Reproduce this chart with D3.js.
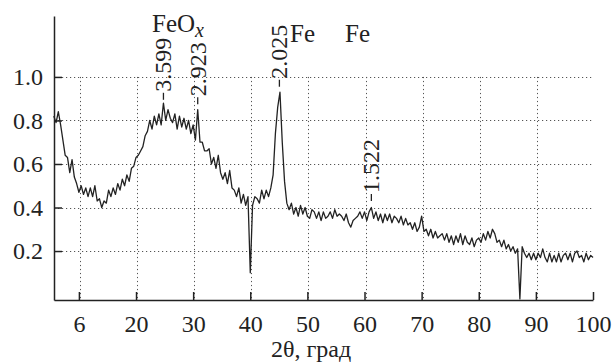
<!DOCTYPE html>
<html>
<head>
<meta charset="utf-8">
<script src="https://cdn.jsdelivr.net/npm/d3@7"></script>
<style>
  body { margin: 0; background: #fff; }
  svg { display: block; }
  svg text { font-family: "Liberation Serif", "Times New Roman", "DejaVu Serif", Times, serif; }
</style>
</head>
<body>
<div id="chart"></div>
<script>
// scan start and step, degrees 2θ
const scanStart = 5.6;
const scanStep = 0.4;

// intensity, one value per step
const intensity = [
  0.82, 0.79, 0.84, 0.78, 0.71, 0.64, 0.63, 0.56, 0.62, 0.54,
  0.51, 0.47, 0.50, 0.46, 0.49, 0.45, 0.49, 0.45, 0.50, 0.43,
  0.44, 0.40, 0.43, 0.42, 0.48, 0.45, 0.49, 0.46, 0.51, 0.48,
  0.53, 0.50, 0.55, 0.52, 0.58, 0.59, 0.63, 0.64, 0.66, 0.68,
  0.73, 0.75, 0.80, 0.76, 0.82, 0.78, 0.83, 0.78, 0.88, 0.80,
  0.85, 0.81, 0.79, 0.83, 0.76, 0.82, 0.77, 0.81, 0.76, 0.80,
  0.74, 0.78, 0.71, 0.85, 0.70, 0.70, 0.66, 0.66, 0.67, 0.60,
  0.63, 0.58, 0.64, 0.56, 0.53, 0.56, 0.51, 0.57, 0.49, 0.48,
  0.45, 0.49, 0.42, 0.46, 0.41, 0.45, 0.10, 0.41, 0.45, 0.44,
  0.42, 0.48, 0.44, 0.48, 0.45, 0.49, 0.55, 0.74, 0.86, 0.93,
  0.70, 0.52, 0.42, 0.39, 0.42, 0.37, 0.40, 0.36, 0.41, 0.37,
  0.40, 0.36, 0.35, 0.39, 0.38, 0.35, 0.38, 0.34, 0.38, 0.35,
  0.36, 0.38, 0.35, 0.39, 0.36, 0.37, 0.36, 0.34, 0.37, 0.33,
  0.31, 0.34, 0.35, 0.36, 0.38, 0.35, 0.38, 0.34, 0.38, 0.40,
  0.35, 0.38, 0.34, 0.37, 0.33, 0.37, 0.34, 0.37, 0.33, 0.36,
  0.35, 0.33, 0.36, 0.32, 0.35, 0.32, 0.33, 0.30, 0.33, 0.29,
  0.31, 0.36, 0.29, 0.30, 0.27, 0.30, 0.26, 0.29, 0.26, 0.27,
  0.28, 0.25, 0.28, 0.24, 0.27, 0.23, 0.27, 0.24, 0.28, 0.23,
  0.27, 0.24, 0.23, 0.26, 0.22, 0.25, 0.26, 0.24, 0.28, 0.25,
  0.29, 0.26, 0.30, 0.28, 0.24, 0.25, 0.22, 0.25, 0.21, 0.23,
  0.20, 0.22, 0.19, 0.21, -0.02, 0.22, 0.19, 0.17, 0.19, 0.16,
  0.19, 0.16, 0.19, 0.17, 0.21, 0.17, 0.15, 0.19, 0.15, 0.18,
  0.15, 0.19, 0.15, 0.18, 0.19, 0.16, 0.19, 0.15, 0.19, 0.20,
  0.17, 0.18, 0.15, 0.19, 0.16, 0.18, 0.17
];

// axis ticks
const xTicks = [10, 20, 30, 40, 50, 60, 70, 80, 90, 100];
const xTickLabels = ["6", "20", "30", "40", "50", "60", "70", "80", "90", "100"];
const yTicks = [0.2, 0.4, 0.6, 0.8, 1.0];
const yTickLabels = ["0.2", "0.4", "0.6", "0.8", "1.0"];

// peak d-spacing labels
const peakAngles = [24.8, 30.8, 45.1, 61.2];
const peakLabels = ["3.599", "2.923", "2.025", "1.522"];
const peakLabelTops = [0.895, 0.875, 0.955, 0.43];

const width = 615, height = 363;
const color = "#222";
const serif = "'Liberation Serif', 'Times New Roman', 'DejaVu Serif', Times, serif";

const svg = d3.select("#chart").append("svg")
    .attr("width", width)
    .attr("height", height);

// scales
const x = d3.scaleLinear().domain([5.64, 100]).range([54, 593]);
const y = d3.scaleLinear().domain([-0.025, 1.28]).range([300, 16]);

// dotted grid
const grid = svg.append("g")
    .attr("stroke", "#555")
    .attr("stroke-width", 1)
    .attr("stroke-dasharray", "1.2,2.8");

grid.selectAll("line.h")
    .data(yTicks)
    .join("line")
    .attr("class", "h")
    .attr("x1", x(5.64)).attr("x2", x(100))
    .attr("y1", d => Math.round(y(d)) + 0.5)
    .attr("y2", d => Math.round(y(d)) + 0.5);

grid.selectAll("line.v")
    .data(xTicks.slice(0, -1))
    .join("line")
    .attr("class", "v")
    .attr("x1", d => Math.round(x(d)) + 1.5)
    .attr("x2", d => Math.round(x(d)) + 1.5)
    .attr("y1", y(1.0)).attr("y2", y(-0.025));

// data line
const points = intensity.map((v, i) => [scanStart + i * scanStep, v]);

svg.append("path")
    .datum(points)
    .attr("fill", "none")
    .attr("stroke", color)
    .attr("stroke-width", 1.3)
    .attr("stroke-linejoin", "round")
    .attr("d", d3.line()
        .x(d => x(d[0]))
        .y(d => y(d[1]))
    );

// axes
const xAxis = svg.append("g")
    .attr("transform", `translate(0,${y(-0.025)})`)
    .call(d3.axisBottom(x)
        .tickValues(xTicks)
        .tickSize(-8)
        .tickSizeOuter(0)
        .tickPadding(15)
        .tickFormat((d, i) => xTickLabels[i]));

const yAxis = svg.append("g")
    .attr("transform", `translate(${x(5.64)},0)`)
    .call(d3.axisLeft(y)
        .tickValues(yTicks)
        .tickSize(-8)
        .tickSizeOuter(0)
        .tickPadding(11)
        .tickFormat((d, i) => yTickLabels[i]));

[xAxis, yAxis].forEach(g => {
    g.attr("font-family", serif).attr("font-size", 24);
    g.selectAll("path, line").attr("stroke", color).attr("stroke-width", 1.5);
    g.selectAll("text").attr("fill", color);
});

// axis title
svg.append("text")
    .attr("x", 311).attr("y", 357)
    .attr("text-anchor", "middle")
    .attr("fill", color)
    .attr("font-family", serif)
    .attr("font-size", 24)
    .text("2θ, град");

// rotated d-spacing labels with short leaders
const peaks = svg.append("g")
    .attr("font-family", serif)
    .attr("font-size", 24);
peakLabels.forEach((label, i) => {
    const px = x(peakAngles[i]);
    const py = y(peakLabelTops[i]);
    peaks.append("line")
        .attr("x1", px).attr("x2", px)
        .attr("y1", py).attr("y2", py - 7)
        .attr("stroke", color)
        .attr("stroke-width", 1.3);
    peaks.append("text")
        .attr("transform", `translate(${px + 8},${py - 8}) rotate(-90)`)
        .attr("fill", color)
        .text(label);
});

// phase labels
const phases = svg.append("g")
    .attr("font-family", serif)
    .attr("font-size", 25)
    .attr("fill", color);

const feox = phases.append("text")
    .attr("x", 152).attr("y", 32);
feox.append("tspan").text("FeO");
feox.append("tspan")
    .attr("dy", 5)
    .attr("font-style", "italic")
    .attr("font-size", 20)
    .text("x");

phases.append("text")
    .attr("x", 290).attr("y", 42)
    .text("Fe");

phases.append("text")
    .attr("x", 345).attr("y", 42)
    .text("Fe");
</script>
</body>
</html>
